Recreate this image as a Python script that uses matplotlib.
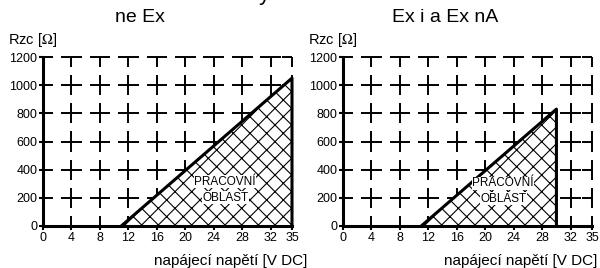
import matplotlib
matplotlib.use("Agg")
import matplotlib.pyplot as plt

plt.rcParams['font.family'] = ['Liberation Sans', 'DejaVu Sans']
plt.rcParams['mathtext.fontset'] = 'stix'
plt.rcParams['hatch.linewidth'] = 0.8

# data
volt_ticks = [0, 4, 8, 12, 16, 20, 24, 28, 32, 35]
rzc_ticks = [0, 200, 400, 600, 800, 1000, 1200]
titles = ["ne Ex", "Ex i a Ex nA"]
u_start = [11, 11]      # V, where the load line starts
u_end = [35, 30]        # V, max supply voltage
r_end = [1050, 830]     # ohm, max load at u_end
area_text = ["PRACOVNÍ", "OBLAST"]

xmax, ymax = 35, 1200

fig = plt.figure(figsize=(6, 2.68), dpi=100)

# axes placement in figure fractions
ax_left = [43 / 600, 343 / 600]
ax_w = 249 / 600
ax_b = 1 - 226 / 268
ax_h = 169 / 268
xlabel_end = [307 / 600, 597 / 600]
title_x = [140 / 600, 445 / 600]
# text spots inside the working area (volts, ohms)
txt_spots = [(25.6, 315, 200), (22.5, 305, 195)]


def draw_grid(ax):
    # dashed grid drawn as crosses centred on the grid nodes
    hw, hh = 1.45, 72
    kw = dict(color='black', lw=1.4, solid_capstyle='butt', clip_on=False, zorder=1)
    for gy in rzc_ticks[1:]:
        for gx in volt_ticks:
            ax.plot([max(gx - hw, 0), min(gx + hw, xmax)], [gy, gy], **kw)
    for gx in volt_ticks[1:]:
        for gy in rzc_ticks:
            ax.plot([gx, gx], [max(gy - hh, 0), min(gy + hh, ymax)], **kw)


for i in range(2):
    ax = fig.add_axes([ax_left[i], ax_b, ax_w, ax_h])
    ax.set_xlim(0, xmax)
    ax.set_ylim(0, ymax)
    draw_grid(ax)

    # working area
    ax.fill([u_start[i], u_end[i], u_end[i]], [0, r_end[i], 0],
            facecolor='white', edgecolor='black', hatch='xx', lw=0, zorder=2)
    ax.plot([u_start[i], u_end[i], u_end[i]], [0, r_end[i], 0],
            color='black', lw=2.2, zorder=3, clip_on=False)

    tx, ty1, ty2 = txt_spots[i]
    for s, ty in zip(area_text, [ty1, ty2]):
        ax.text(tx, ty, s, ha='center', va='center', fontsize=8.5,
                zorder=4, bbox=dict(facecolor='white', edgecolor='none', pad=0.3))

    for side in ['top', 'right']:
        ax.spines[side].set_visible(False)
    for side in ['left', 'bottom']:
        ax.spines[side].set_linewidth(2.2)
        ax.spines[side].set_zorder(5)
    ax.set_xticks(volt_ticks)
    ax.set_yticks(rzc_ticks)
    ax.tick_params(direction='out', length=3, width=1.5, pad=1, labelsize=9)

    fig.text(ax_left[i] - 35 / 600, 1 - 40 / 268, r"Rzc [$\Omega$]",
             ha='left', va='center', fontsize=10.5)
    fig.text(xlabel_end[i], 1 - 261 / 268, "napájecí napětí [V DC]",
             ha='right', va='center', fontsize=11)
    fig.text(title_x[i], 1 - 17 / 268, titles[i], ha='center', va='center', fontsize=14)

# main heading, cut off by the top edge in the reference
fig.text(270 / 600, 1.0, "Zatěžovací charakteristiky", ha='right', va='baseline',
         fontsize=16)

fig.savefig("out.png", dpi=100)
